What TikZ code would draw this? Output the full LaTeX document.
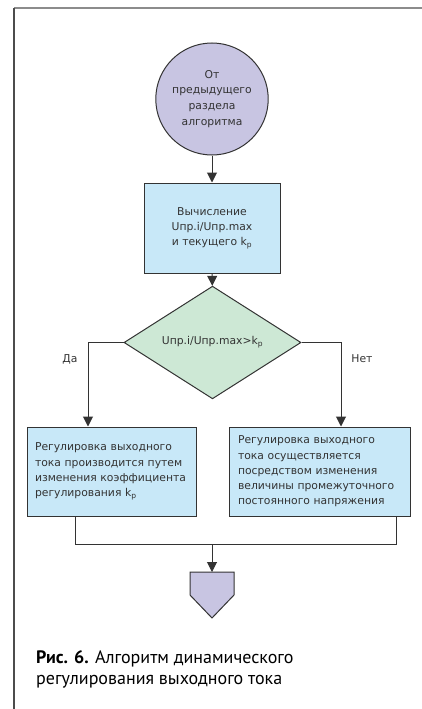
\documentclass[tikz,border=0pt]{standalone}
\usepackage{fontspec}
\setmainfont{DejaVu Sans}
\newfontfamily\capfont{PT Sans}
\usepackage{tikz}
\usetikzlibrary{shapes.geometric, arrows.meta}
\definecolor{lilac}{HTML}{C8C5E2}
\definecolor{skyfill}{HTML}{C8E8F8}
\definecolor{mintfill}{HTML}{CDE8D5}
\definecolor{ink}{HTML}{333333}
\newcommand\flowfont{\fontsize{10.8}{15.3}\selectfont}
\newcommand\captionfont{\capfont\fontsize{18}{21}\selectfont}

\begin{document}
\begin{tikzpicture}[x=1pt, y=-1pt,
    line/.style={draw=ink, line width=1pt},
    arr/.style={line, -{Triangle[width=10pt,length=10pt]}},
    flowtext/.style={text=ink, font=\flowfont},
    startnode/.style={flowtext, ellipse, line, fill=lilac, minimum width=100pt, minimum height=112pt, inner sep=0pt, align=center},
    calcbox/.style={flowtext, rectangle, line, fill=skyfill, inner sep=0pt},
    decision/.style={flowtext, diamond, line, fill=mintfill, minimum width=177pt, minimum height=99pt, inner sep=0pt},
    captext/.style={anchor=base west, inner sep=0pt, text=black, font=\captionfont}]
         \useasboundingbox (0,0) rectangle (422,709);
         \draw [gray!90, line width=1.2pt] (14,8)--(422,8);
         \draw [black!70, line width=1.2pt] (14,8)--(14,709);
         \node [startnode, font=\fontsize{10.8}{15.9}\selectfont] (start) at (212,99) {От\\предыдущего\\раздела\\алгоритма};
         \node [calcbox, minimum width=136pt, minimum height=90pt, align=center] (calc) at (212,228) {Вычисление\\Uпр.i/Uпр.max\\и текущего k\textsubscript{p}};
         \node [decision] (dec) at (212.5,342.5) {Uпр.i/Uпр.max>k\textsubscript{p}};
         \node [calcbox, minimum width=169pt, minimum height=89pt, text width=153pt, align=left] (left) at (111.5,471.5) {Регулировка выходного\\тока производится путем\\изменения коэффициента\\регулирования k\textsubscript{p}};
         \node [calcbox, minimum width=181pt, minimum height=89pt, text width=163pt, align=left] (right) at (319.5,471.5) {Регулировка выходного\\тока осуществляется\\посредством изменения\\величины промежуточного\\постоянного напряжения};
         \coordinate (cl) at (88,0);
         \coordinate (cr) at (341,0);
         \coordinate (jl) at (75,544);
         \coordinate (jr) at (396,544);
         \coordinate (join) at (212,544);
         \coordinate (end) at (212,572);
         \draw [arr] (start)--(calc);
         \draw [arr] (calc)--(dec);
         \draw [arr] (dec.west)-|(cl |- left.north);
         \draw [arr] (dec.east)-|(cr |- right.north);
         \node [flowtext] (yes) at (70,359) {Да};
         \node [flowtext] (no) at (362,359) {Нет};
         \draw [line] (left.south -| jl)--(jl)--(jr)--(right.south -| jr);
         \draw [arr] (join)--(end);
         \draw [line, fill=lilac] (190,572)--(234,572)--(234,595)--(212,618)--(190,595)--cycle;
         \node [captext] (cap1) at (36,663) {\textbf{Рис. 6.} Алгоритм динамического};
         \node [captext] (cap2) at (36,684) {регулирования выходного тока};
       \end{tikzpicture}
\end{document}
